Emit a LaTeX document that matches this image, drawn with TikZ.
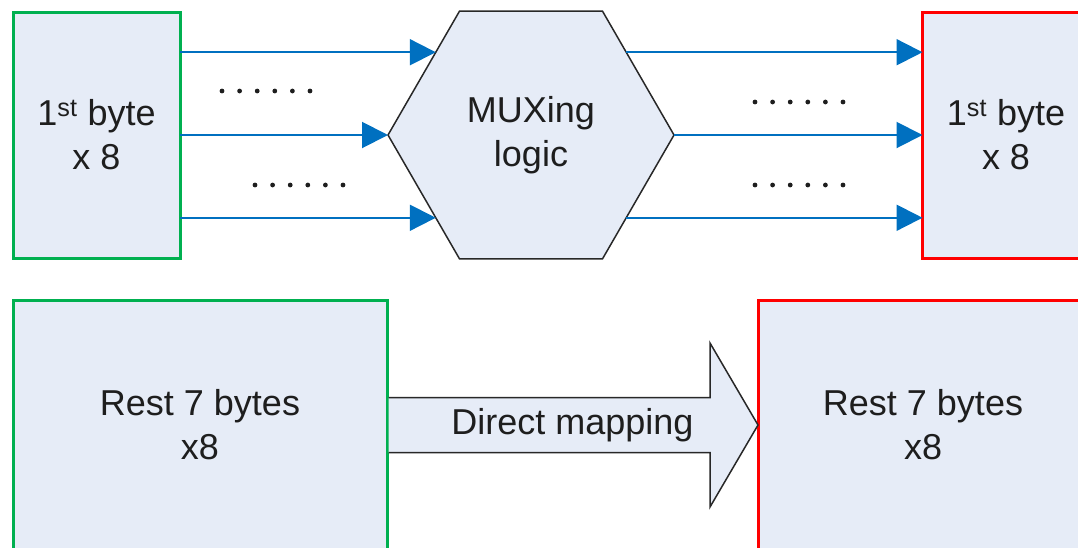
\documentclass[tikz,border=0pt]{standalone}
\usepackage{fontspec}
\setmainfont{Liberation Sans}
\usetikzlibrary{shapes.geometric, arrows.meta, calc, positioning}
\definecolor{boxfill}{RGB}{230,236,247}
\definecolor{ingreen}{RGB}{0,176,80}
\definecolor{outred}{RGB}{255,0,0}
\definecolor{sigblue}{RGB}{0,112,192}
\definecolor{textgray}{RGB}{30,30,30}
\definecolor{hexline}{RGB}{40,40,40}

\begin{document}
\begin{tikzpicture}[x=1pt, y=-1pt, font=\fontsize{36}{44}\selectfont,
        box/.style={draw, fill=boxfill, line width=3pt, inner sep=0pt, outer sep=0pt, align=center, text=textgray},
        inbox/.style={box, draw=ingreen},
        outbox/.style={box, draw=outred},
        sig/.style={draw=sigblue, line width=2pt, -{Triangle[length=26pt, width=26pt]}},
        bigarrow/.style={draw=hexline, fill=boxfill, line width=1.5pt, line join=miter}]
        \useasboundingbox (0,0) rectangle (1078,547);
        \clip (0,0) rectangle (1078,547);
        % first byte
        \node[inbox, minimum width=167pt, minimum height=246pt] (inbyte) at (96.5,135) {1\textsuperscript{st} byte\\x 8};
        \node[draw=hexline, fill=boxfill, line width=1.5pt, regular polygon, regular polygon sides=6,
              minimum size=286pt, inner sep=0pt, outer sep=0pt, align=center, text=textgray] (mux) at (531,135) {MUXing\\logic};
        \node[outbox, minimum width=167pt, minimum height=246pt] (outbyte) at (1006,135) {1\textsuperscript{st} byte\\x 8};
        \foreach \a in {139,180,221}
            \draw[sig] (inbyte.east |- mux.\a) -- (mux.\a);
        \foreach \a in {41,0,-41}
            \draw[sig] (mux.\a) -- (outbyte.west |- mux.\a);
        \foreach \x/\y in {222/91, 255/185, 755/102, 755/185}
            \foreach \i in {0,...,5}
                \fill[textgray] (\x+17.6*\i,\y) circle (2.4pt);
        % rest bytes
        \node[inbox, minimum width=374pt, minimum height=250pt] (inrest) at (200,425) {Rest 7 bytes\\x8};
        \node[outbox, minimum width=330pt, minimum height=250pt] (outrest) at (923,425) {Rest 7 bytes\\x8};
        \coordinate (headbase) at ($(outrest.west)+(-48,0)$);
        \filldraw[bigarrow] ($(inrest.east)+(1.5,-27.5)$) coordinate (tail) -- (tail -| headbase) -- ++(0,-54.5)
            -- (outrest.west) -- ($(headbase)+(0,82)$) -- ++(0,-54.5) -- ($(inrest.east)+(1.5,27.5)$);
        \node[text=textgray] (maplabel) at ($(inrest.east)!0.5!(outrest.west)$) {Direct mapping};
    \end{tikzpicture}
\end{document}
